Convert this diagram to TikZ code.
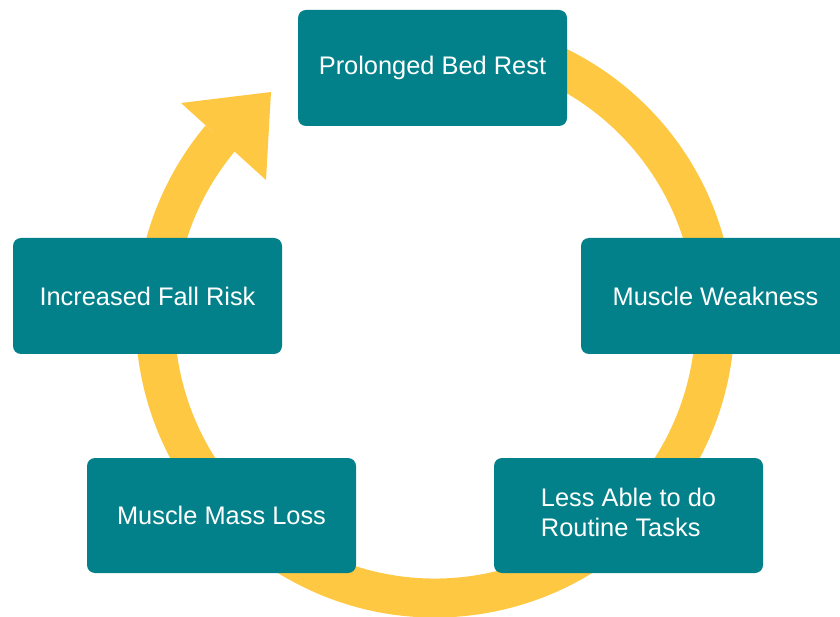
\documentclass[tikz,border=0pt]{standalone}
\usepackage{fontspec}
\setmainfont{Liberation Sans}
\definecolor{teal}{HTML}{03818A}
\definecolor{ringyellow}{HTML}{FEC842}
\tikzset{
  stage/.style={draw=none, fill=teal, rounded corners=8pt, minimum width=269pt,
    minimum height=116pt, inner sep=0pt, text=white, align=center,
    font=\fontsize{25.4}{29.5}\selectfont},
  ring/.style={draw=ringyellow, line width=39pt},
  headfill/.style={fill=ringyellow}
}
\begin{document}
\begin{tikzpicture}[x=1pt,y=1pt]
\useasboundingbox (0,0) rectangle (840,616);
\coordinate (c) at (435,298);
% ring
\draw[ring] (c) ++(100:280pt) arc[start angle=100, end angle=-220, radius=280pt];
\begin{scope}[shift={(c)}]
  \coordinate (tip) at (-164,226);
  \coordinate (cornerout) at (-254,215);
  \coordinate (cornerin) at (-169,138);
  \fill[headfill] (tip) -- (cornerout) -- (cornerin) -- cycle;
\end{scope}
% boxes
\node[stage] (bedrest) at (432.5,548) {\raisebox{-1.5pt}{Prolonged Bed Rest}};
\node[stage] (weakness) at (715.5,320) {\raisebox{-1.5pt}{Muscle Weakness}};
\node[stage, minimum height=115pt] (lessable) at (628.5,100.5) {\raisebox{-1.5pt}{\begin{tabular}{@{}l@{}}Less Able to do\\Routine Tasks\end{tabular}}};
\node[stage, minimum height=115pt] (massloss) at (221.5,100.5) {\raisebox{-1.5pt}{Muscle Mass Loss}};
\node[stage] (fallrisk) at (147.5,320) {\raisebox{-1.5pt}{Increased Fall Risk}};
\end{tikzpicture}
\end{document}
